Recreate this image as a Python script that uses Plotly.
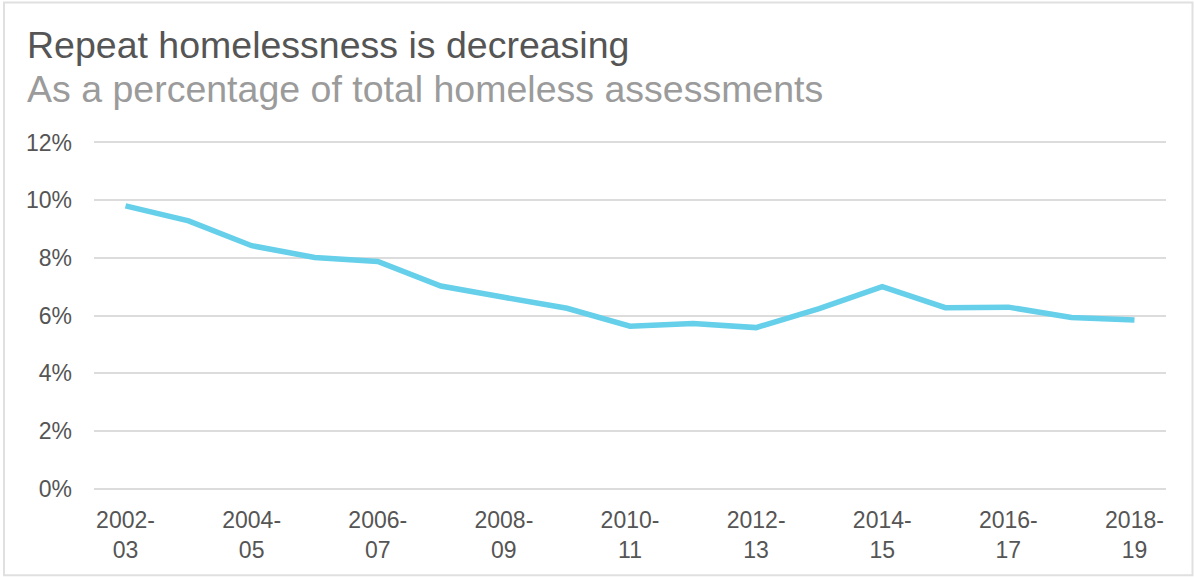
import plotly.graph_objects as go

categories = ["2002-03", "2003-04", "2004-05", "2005-06", "2006-07", "2007-08",
              "2008-09", "2009-10", "2010-11", "2011-12", "2012-13", "2013-14",
              "2014-15", "2015-16", "2016-17", "2017-18", "2018-19"]
repeat_pct = [9.8, 9.28, 8.42, 8.01, 7.87, 7.02, 6.63, 6.25, 5.63, 5.72,
              5.58, 6.24, 7.0, 6.27, 6.29, 5.93, 5.84]
y_ticks = [0, 2, 4, 6, 8, 10, 12]
y_tick_labels = [f"{v}%" for v in y_ticks]
x_tick_vals = categories[::2]
x_tick_text = [c.replace("-", "-<br>") for c in x_tick_vals]

title_text = "Repeat homelessness is decreasing"
subtitle_text = "As a percentage of total homeless assessments"

W, H = 1194, 577
L, R, T, B = 94, 28, 140.5, 86.5
pw, ph = W - L - R, H - T - B

def px_x(x):
    return (x - L) / pw

def px_y(y):
    return (H - B - y) / ph

FONT = "Liberation Sans, Arial, Helvetica, sans-serif"

fig = go.Figure()
fig.add_trace(go.Scatter(
    x=categories, y=repeat_pct, mode="lines",
    line=dict(color="#66CFE9", width=5.5),
    hoverinfo="x+y",
))

fig.update_layout(
    width=W, height=H,
    margin=dict(l=L, r=R, t=T, b=B),
    paper_bgcolor="white", plot_bgcolor="white",
    showlegend=False,
    font=dict(family=FONT, color="#555555", size=23),
    xaxis=dict(
        type="category", range=[-0.5, len(categories) - 0.5],
        tickmode="array", tickvals=x_tick_vals, ticktext=x_tick_text,
        showgrid=False, showline=False, zeroline=False, ticks="",
        ticklabelstandoff=14,
        tickfont=dict(size=23, color="#555555"),
    ),
    yaxis=dict(
        range=[-0.05, 12.05], tickmode="array", tickvals=y_ticks, ticktext=y_tick_labels,
        showgrid=True, gridcolor="#DCDCDC", gridwidth=2,
        zeroline=False, showline=False, ticks="",
        ticklabelstandoff=21,
        tickfont=dict(size=23, color="#555555"),
    ),
    annotations=[
        dict(text=title_text, xref="paper", yref="paper",
             x=px_x(25), y=px_y(67), xanchor="left", yanchor="bottom",
             showarrow=False, font=dict(size=37.5, color="#555555", family=FONT)),
        dict(text=subtitle_text, xref="paper", yref="paper",
             x=px_x(25), y=px_y(111), xanchor="left", yanchor="bottom",
             showarrow=False, font=dict(size=37.5, color="#9B9B9B", family=FONT)),
    ],
    shapes=[
        dict(type="rect", xref="paper", yref="paper",
             x0=px_x(4), x1=px_x(1192.5), y0=px_y(576), y1=px_y(1.5),
             line=dict(color="#E0E0E0", width=2), fillcolor="rgba(0,0,0,0)",
             layer="below"),
    ],
)

fig.write_html("out.html")
